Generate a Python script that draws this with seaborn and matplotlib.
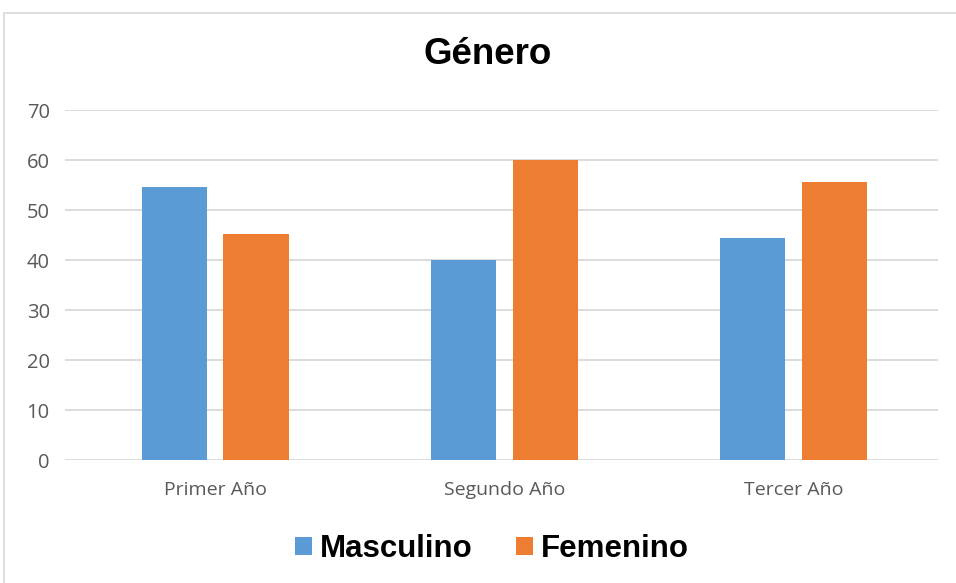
import pandas as pd
import seaborn as sns
import matplotlib.pyplot as plt
from matplotlib.patches import Rectangle

# Values
anios = ['Primer Año', 'Segundo Año', 'Tercer Año']
masculino = [54.7, 40.0, 44.4]
femenino = [45.3, 60.0, 55.6]
generos = ['Masculino', 'Femenino']
colores = ['#5B9BD5', '#ED7D31']

df = pd.DataFrame({
    'Año': anios * 2,
    'Género': [generos[0]] * 3 + [generos[1]] * 3,
    'Porcentaje': masculino + femenino,
})

sns.set_style('white')
plt.rcParams['font.family'] = ['Open Sans', 'DejaVu Sans']

fig = plt.figure(figsize=(9.56, 5.83), dpi=100)
ax = fig.add_axes([65 / 956, 123 / 583, 873 / 956, 350 / 583])

sns.barplot(data=df, x='Año', y='Porcentaje', hue='Género',
            palette=colores, saturation=1, width=0.564, gap=0.2,
            linewidth=0, ax=ax, legend=True)

ax.set_ylim(0, 70)
ax.set_xlim(-0.52, 2.5)
ax.set_yticks(range(0, 71, 10))
ax.yaxis.grid(True, color='#d9d9d9', linewidth=1.3)
ax.set_axisbelow(True)
for s in ax.spines.values():
    s.set_visible(False)
ax.set_xlabel('')
ax.set_ylabel('')
ax.tick_params(axis='y', length=0, pad=11, labelsize=14.5, labelcolor='#595959')
ax.tick_params(axis='x', length=0, pad=15, labelsize=14, labelcolor='#595959')

fig.text(0.51, 1 - 55 / 583, 'Género', ha='center', va='center', color='black',
         fontsize=26.5, fontweight='bold', family='Liberation Sans')

handles, labels = ax.get_legend_handles_labels()
ax.get_legend().remove()
leg = fig.legend(handles, labels, loc='center', bbox_to_anchor=(492 / 956, 1 - 549 / 583),
                 ncol=2, frameon=False, labelcolor='black',
                 prop={'family': 'Liberation Sans', 'weight': 'bold', 'size': 22.5},
                 handlelength=0.55, handleheight=0.55, handletextpad=0.25, columnspacing=1.4)
for h in leg.legend_handles:
    h.set_linewidth(0)

# light chart-area border like the original
fig.patches.append(Rectangle((3.5 / 956, -0.05), 1.1, 1 - 13 / 583 + 0.05,
                             transform=fig.transFigure, fill=False,
                             edgecolor='#d9d9d9', linewidth=1.2))

fig.savefig('out.png', dpi=100)
